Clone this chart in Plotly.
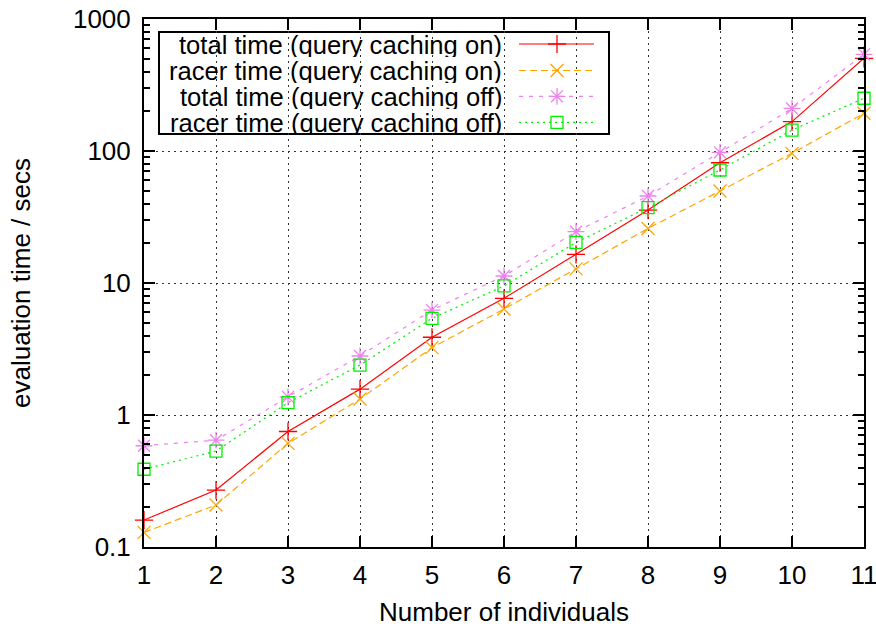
import plotly.graph_objects as go

individuals = [1, 2, 3, 4, 5, 6, 7, 8, 9, 10, 11]
total_on = [0.16, 0.27, 0.75, 1.57, 3.88, 7.66, 16.5, 35.7, 81.5, 167, 504]
racer_on = [0.129, 0.208, 0.61, 1.32, 3.24, 6.35, 12.8, 25.9, 49.8, 96, 193]
total_off = [0.585, 0.645, 1.37, 2.8, 6.24, 11.3, 24.5, 45.6, 97.7, 210, 540]
racer_off = [0.388, 0.533, 1.24, 2.39, 5.4, 9.5, 20.3, 37.2, 71.8, 144, 251]

names = ["total time (query caching on)", "racer time (query caching on)",
         "total time (query caching off)", "racer time (query caching off)"]
series = [total_on, racer_on, total_off, racer_off]
colors = ["#ff0000", "#ffa500", "#ee82ee", "#00ee00"]
dashes = ["solid", "7px,4px", "4px,6px", "2px,4px"]
symbols = ["cross-thin-open", "x-thin-open", "asterisk-open", "square-open"]
msizes = [13, 13, 14, 12]

FONT = "Liberation Sans, Arial, Helvetica, sans-serif"
FS = 26
LEG_FS = 25.6
W, H = 876, 627
L, R, T, B = 144, 12, 19, 80

fig = go.Figure()
for name, ys, c, d, s, ms in zip(names, series, colors, dashes, symbols, msizes):
    fig.add_trace(go.Scatter(
        x=individuals, y=ys, name=name, mode="lines+markers",
        line=dict(color=c, width=1.2, dash=d),
        marker=dict(symbol=s, size=ms, color=c, line=dict(color=c, width=1.3)),
        showlegend=False, cliponaxis=False))

# custom legend (gnuplot style: text right-aligned, sample on the right)
# legend helper axes are in plot-area pixel units
row_y = [25, 51.5, 77.3, 103.3]
for i, (name, c, d, s, ms) in enumerate(zip(names, colors, dashes, symbols, msizes)):
    fig.add_trace(go.Scatter(
        x=[375, 450], y=[row_y[i], row_y[i]], mode="lines",
        line=dict(color=c, width=1.2, dash=d), xaxis="x2", yaxis="y2",
        showlegend=False, hoverinfo="skip"))
    fig.add_trace(go.Scatter(
        x=[413], y=[row_y[i]], mode="markers",
        marker=dict(symbol=s, size=ms, color=c, line=dict(color=c, width=1.3)),
        xaxis="x2", yaxis="y2", showlegend=False, hoverinfo="skip"))
    fig.add_annotation(x=359, y=row_y[i], xref="x2", yref="y2", text=name,
                       showarrow=False, xanchor="right", yanchor="middle",
                       height=25, borderpad=0,
                       font=dict(family=FONT, size=LEG_FS, color="black"))
fig.add_shape(type="rect", x0=15, x1=465, y0=13, y1=115, xref="x2", yref="y2",
              line=dict(color="black", width=2), fillcolor="white", layer="below")

axis_common = dict(
    showline=True, linecolor="black", linewidth=2, mirror="ticks",
    ticks="inside", ticklen=11, tickwidth=1.5, tickcolor="black",
    showgrid=True, gridcolor="#333333", griddash="2px,4px", gridwidth=1,
    zeroline=False, tickfont=dict(family=FONT, size=FS),
    automargin=False, ticklabeloverflow="allow",
)

fig.update_layout(
    width=W, height=H,
    margin=dict(l=L, r=R, t=T, b=B),
    paper_bgcolor="white", plot_bgcolor="white",
    font=dict(family=FONT, size=FS, color="black"),
    xaxis=dict(
        range=[1, 11], dtick=1, tick0=1, ticklabelstandoff=4,
        title=dict(text="Number of individuals", standoff=20,
                   font=dict(family=FONT, size=FS)),
        **axis_common,
    ),
    yaxis=dict(
        type="log", range=[-1, 3],
        tickvals=[0.1, 1, 10, 100, 1000], ticktext=["0.1", "1", "10", "100", "1000"],
        minor=dict(ticks="inside", ticklen=6, tickwidth=1.5, tickcolor="black",
                   dtick="D1", showgrid=False),
        ticklabelstandoff=6,
        title=dict(text="evaluation time / secs", standoff=35,
                   font=dict(family=FONT, size=FS)),
        **axis_common,
    ),
    xaxis2=dict(domain=[0, 1], range=[0, W - L - R], overlaying="x", visible=False,
                fixedrange=True, anchor="y2"),
    yaxis2=dict(domain=[0, 1], range=[H - T - B, 0], overlaying="y", visible=False,
                fixedrange=True, anchor="x2"),
)

fig.write_html(
    "out.html",
    config={"displayModeBar": False},
    post_script="document.body.style.margin='0';document.body.style.overflow='hidden';",
)
